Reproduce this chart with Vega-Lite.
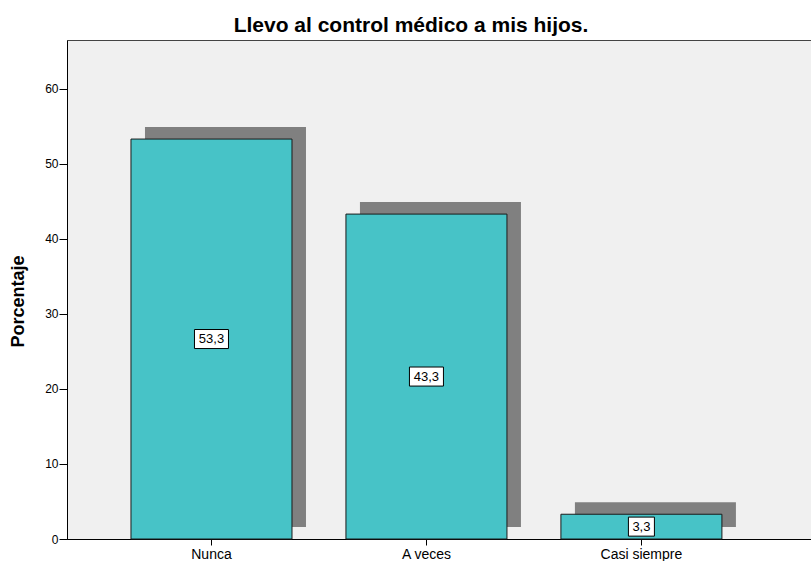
{
  "$schema": "https://vega.github.io/schema/vega-lite/v6.json",
  "width": 744,
  "height": 499,
  "autosize": {"type": "none"},
  "padding": {"left": 67, "top": 40, "right": 0, "bottom": 22},
  "background": "white",
  "config": {
    "view": {"fill": "#F0F0F0", "stroke": "#444444", "strokeWidth": 1},
    "font": "Liberation Sans"
  },
  "title": {
    "text": "Llevo al control médico a mis hijos.",
    "fontSize": 21,
    "fontWeight": "bold",
    "color": "black",
    "font": "Liberation Sans",
    "dx": -28,
    "offset": 4
  },
  "data": {
    "values": [
      {"cat": "Nunca", "pct": 53.3, "label": "53,3"},
      {"cat": "A veces", "pct": 43.3, "label": "43,3"},
      {"cat": "Casi siempre", "pct": 3.3, "label": "3,3"}
    ]
  },
  "encoding": {
    "x": {
      "field": "cat",
      "type": "nominal",
      "sort": null,
      "scale": {"paddingInner": 0.251, "paddingOuter": 0.356, "align": 0.418},
      "axis": {
        "title": null,
        "labelAngle": 0,
        "labelFontSize": 14,
        "labelColor": "black",
        "labelFont": "Liberation Sans",
        "labelPadding": 2,
        "tickSize": 6,
        "tickColor": "black",
        "domainColor": "black",
        "grid": false
      }
    }
  },
  "layer": [
    {
      "mark": {"type": "bar", "color": "#808080", "xOffset": 14, "yOffset": -12, "y2Offset": -12},
      "encoding": {
        "y": {
          "field": "pct",
          "type": "quantitative",
          "scale": {"domain": [0, 66.5], "nice": false},
          "axis": {
            "title": "Porcentaje",
            "titleFontSize": 18,
            "titleFontWeight": "bold",
            "titleColor": "black",
            "titleFont": "Liberation Sans",
            "titleX": -40,
            "titleY": 261,
            "values": [0, 10, 20, 30, 40, 50, 60],
            "labelFontSize": 12,
            "labelColor": "black",
            "labelFont": "Liberation Sans",
            "labelPadding": 1,
            "tickSize": 8,
            "tickColor": "black",
            "domainColor": "black",
            "grid": false
          }
        }
      }
    },
    {
      "mark": {"type": "bar", "fill": "#47C3C7", "stroke": "#1a1a1a", "strokeWidth": 1},
      "encoding": {
        "y": {
          "field": "pct",
          "type": "quantitative",
          "scale": {"domain": [0, 66.5], "nice": false},
          "axis": null
        }
      }
    },
    {
      "layer": [
        {
          "mark": {"type": "point", "filled": true, "fill": "white", "stroke": "black", "strokeWidth": 1, "opacity": 1, "size": 1156},
          "encoding": {
            "shape": {
              "condition": {"test": "datum.pct < 10", "value": "M-0.765,-0.56H0.765V0.56H-0.765Z"},
              "value": "M-1,-0.56H1V0.56H-1Z"
            }
          }
        },
        {
          "mark": {"type": "text", "fontSize": 13, "color": "black", "align": "center", "baseline": "middle", "font": "Liberation Sans"},
          "encoding": {"text": {"field": "label"}}
        }
      ],
      "encoding": {
        "y": {
          "field": "pct",
          "type": "quantitative",
          "scale": {"domain": [0, 133], "nice": false},
          "axis": null
        }
      }
    }
  ],
  "resolve": {"scale": {"y": "independent"}}
}
